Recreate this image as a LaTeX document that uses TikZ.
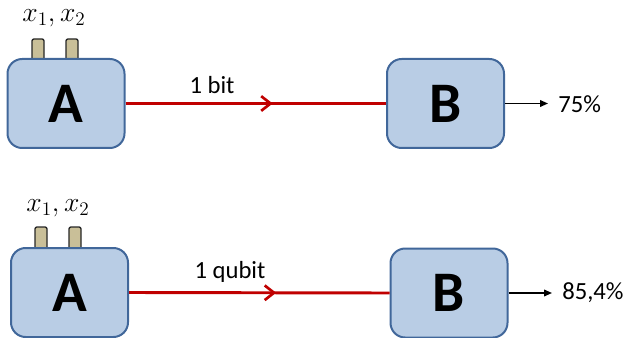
\documentclass[tikz,border=0pt]{standalone}
\usepackage{fontspec}
\setmainfont{Carlito}
\usetikzlibrary{arrows.meta,decorations.markings}
\definecolor{boxfill}{HTML}{B9CDE5}
\definecolor{boxline}{HTML}{41679A}
\definecolor{pinfill}{HTML}{C9BF98}
\definecolor{redline}{HTML}{C00000}
\begin{document}
\begin{tikzpicture}[x=0.75pt,y=-0.75pt,
  party/.style={draw=boxline, fill=boxfill, line width=1.5pt, rounded corners=11pt,
    minimum width=117*0.75pt, minimum height=89*0.75pt, inner sep=0pt,
    font=\fontsize{43}{43}\selectfont\bfseries},
  pin/.style={draw=black!85, fill=pinfill, line width=1pt, rounded corners=1.5pt},
  channel/.style={draw=redline, line width=2.2pt,
    postaction={decorate, decoration={markings,
      mark=at position 0.565 with {\arrow{Straight Barb[length=7pt,width=11pt,line width=2pt]}}}}},
  outarrow/.style={draw=black, line width=1.2pt, -{Triangle[length=6pt,width=5pt]}},
  lbl/.style={font=\fontsize{18.5}{18.5}\selectfont, inner sep=0pt},
  inp/.style={font=\fontsize{20}{20}\selectfont, inner sep=0pt}
]
\useasboundingbox (0,0) rectangle (627,338);
% top row
\path[pin] (32,39) rectangle (44,62);
\path[pin] (66,39) rectangle (78,62);
\node[party] (A1) at (66,103.5) {A};
\node[inp] (in1) at (54,18) {$x_1,x_2$};
\node[party] (B1) at (445.5,103.5) {B};
\draw[channel] (A1.east) -- (B1.west);
\node[lbl] (l1) at (212,85) {1 bit};
\coordinate (o1) at (548,103.5);
\draw[outarrow] (B1.east) -- (o1);
\node[lbl, anchor=west] (r1) at (558,104) {75\%};
% bottom row
\path[pin] (35,227) rectangle (47,252);
\path[pin] (69,227) rectangle (81,252);
\node[party] (A2) at (69.5,292.5) {A};
\node[inp] (in2) at (58,208) {$x_1,x_2$};
\node[party] (B2) at (449,293) {B};
\draw[channel] (A2.east) -- (B2.west);
\node[lbl] (l2) at (230,272) {1 qubit};
\coordinate (o2) at (552,293);
\draw[outarrow] (B2.east) -- (o2);
\node[lbl, anchor=west] (r2) at (562,293) {85,4\%};
\end{tikzpicture}
\end{document}
